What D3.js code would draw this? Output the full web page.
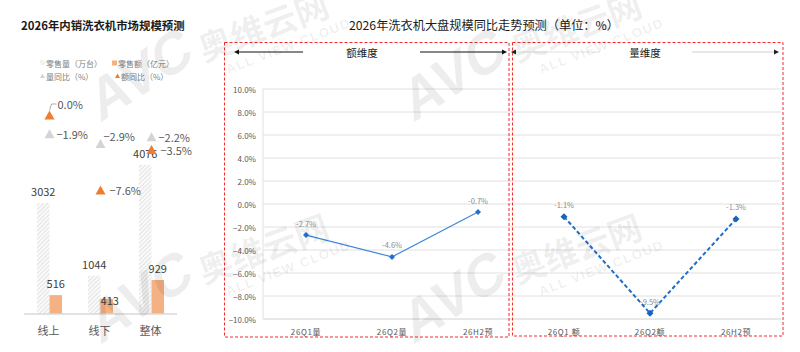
<!DOCTYPE html>
<html><head><meta charset="utf-8">
<script src="https://cdn.jsdelivr.net/npm/d3@7"></script>
<style>
html,body{margin:0;padding:0;background:#fff;}
svg{display:block;font-family:"Noto Sans CJK SC","Noto Sans",sans-serif;}
</style></head>
<body>
<script>
// ---------- data: left chart ----------
const channels = ["线上", "线下", "整体"];
const retailVolume = [3032, 1044, 4076];      // 零售量（万台）
const retailAmount = [516, 413, 929];         // 零售额（亿元）
const volumeYoY = [-1.9, -2.9, -2.2];         // 量同比（%）
const amountYoY = [0.0, -7.6, -3.5];          // 额同比（%）
const legendLabels = ["零售量（万台）", "零售额（亿元）", "量同比（%）", "额同比（%）"];

// ---------- data: right chart ----------
const periods = ["26Q1量", "26Q2量", "26H2预", "26Q1 额", "26Q2额", "26H2预 "];
const periodLabels = ["26Q1量", "26Q2量", "26H2预", "26Q1 额", "26Q2额", "26H2预"];
const amountDim = [-2.7, -4.6, -0.7];        // 额维度
const volumeDim = [-1.1, -9.5, -1.3];        // 量维度
const yTicks = [-10, -8, -6, -4, -2, 0, 2, 4, 6, 8, 10];

const W = 800, H = 352;
const svg = d3.select("body").append("svg").attr("width", W).attr("height", H);
svg.append("rect").attr("width", W).attr("height", H).attr("fill", "#fff");

const defs = svg.append("defs");
const pat = defs.append("pattern").attr("id", "hatch").attr("patternUnits", "userSpaceOnUse")
  .attr("width", 3).attr("height", 3).attr("patternTransform", "rotate(45)");
pat.append("rect").attr("width", 3).attr("height", 3).attr("fill", "#fafafa");
pat.append("line").attr("x1", 0).attr("y1", 0).attr("x2", 0).attr("y2", 3)
  .attr("stroke", "#cccccc").attr("stroke-width", 1);

const fmtPct = v => (v < 0 ? "−" : "") + Math.abs(v).toFixed(1) + "%";
const orange = "#ed7d31", lightOrange = "#f4b183", greyTri = "#d4d4d4";

// ================= LEFT CHART =================
svg.append("text").attr("x", 21).attr("y", 30).attr("font-size", 11.4).attr("font-weight", "bold")
  .attr("fill", "#1a1a1a").text("2026年内销洗衣机市场规模预测");

// legend
const lg = svg.append("g").attr("font-size", 8).attr("fill", "#808080");
lg.append("rect").attr("x", 40).attr("y", 60).attr("width", 5).attr("height", 5).attr("fill", "url(#hatch)");
lg.append("text").attr("x", 46).attr("y", 63).attr("dominant-baseline", "central").text(legendLabels[0]);
lg.append("rect").attr("x", 112).attr("y", 60.5).attr("width", 5).attr("height", 5).attr("fill", lightOrange);
lg.append("text").attr("x", 118).attr("y", 63).attr("dominant-baseline", "central").text(legendLabels[1]);
lg.append("path").attr("d", "M40,78L42.5,73.5L45,78Z").attr("fill", greyTri);
lg.append("text").attr("x", 46).attr("y", 76).attr("dominant-baseline", "central").text(legendLabels[2]);
lg.append("path").attr("d", "M115,78L117.5,73.5L120,78Z").attr("fill", orange);
lg.append("text").attr("x", 121).attr("y", 76).attr("dominant-baseline", "central").text(legendLabels[3]);

const xL = d3.scaleBand().domain(channels).range([24, 177]);
const yBar = d3.scaleLinear().domain([0, 5000]).range([314, 131]);
const yPct = d3.scaleLinear().domain([-10, 0]).range([213.7, 115]);
const bw = 12.5;

const gL = svg.append("g");
channels.forEach((c, i) => {
  const cx = xL(c) + xL.bandwidth() / 2;
  gL.append("rect").attr("x", cx - bw).attr("y", yBar(retailVolume[i]))
    .attr("width", bw).attr("height", yBar(0) - yBar(retailVolume[i])).attr("fill", "url(#hatch)");
  gL.append("rect").attr("x", cx).attr("y", yBar(retailAmount[i]))
    .attr("width", bw).attr("height", yBar(0) - yBar(retailAmount[i])).attr("fill", lightOrange);
});
gL.append("line").attr("x1", 24).attr("x2", 177).attr("y1", yBar(0)).attr("y2", yBar(0))
  .attr("stroke", "#d9d9d9").attr("stroke-width", 1.5);

channels.forEach(c => {
  gL.append("text").attr("x", xL(c) + xL.bandwidth() / 2 - 1).attr("y", 330)
    .attr("text-anchor", "middle").attr("dominant-baseline", "central")
    .attr("font-size", 11).attr("fill", "#595959").text(c);
});

const amtNudge = [0, 13, 0];
channels.forEach((c, i) => {
  const cx = xL(c) + xL.bandwidth() / 2;
  gL.append("text").attr("x", cx - bw / 2).attr("y", yBar(retailVolume[i]) - 7)
    .attr("text-anchor", "middle").attr("font-size", 11).attr("fill", "#404040").text(retailVolume[i]);
  gL.append("text").attr("x", cx + bw / 2 + (i === 1 ? 3 : 0)).attr("y", yBar(retailAmount[i]) - 7 + amtNudge[i])
    .attr("text-anchor", "middle").attr("font-size", 11).attr("fill", "#404040").text(retailAmount[i]);
});

const tri = (cx, cy) => `M${cx - 5},${cy + 4.5}L${cx},${cy - 4.5}L${cx + 5},${cy + 4.5}Z`;
const volLabelNudge = [0, -8, 0];
const amtLabelNudge = [-11, 0, 0];
channels.forEach((c, i) => {
  const cx = xL(c) + xL.bandwidth() / 2;
  gL.append("path").attr("d", tri(cx, yPct(volumeYoY[i]))).attr("fill", greyTri);
  gL.append("path").attr("d", tri(cx, yPct(amountYoY[i]))).attr("fill", orange);
});
channels.forEach((c, i) => {
  const cx = xL(c) + xL.bandwidth() / 2;
  gL.append("text").attr("x", cx + (i === 1 ? 3 : 7)).attr("y", yPct(volumeYoY[i]) + volLabelNudge[i])
    .attr("dominant-baseline", "central").attr("font-size", 11).attr("fill", "#595959").text(fmtPct(volumeYoY[i]));
  const ax = cx + (i === 0 ? 8 : 9);
  const ay = yPct(amountYoY[i]) + amtLabelNudge[i];
  gL.append("text").attr("x", ax).attr("y", ay)
    .attr("dominant-baseline", "central").attr("font-size", 11).attr("fill", "#595959").text(fmtPct(amountYoY[i]));
  if (amtLabelNudge[i] !== 0) {
    const ty = yPct(amountYoY[i]) - 4.5;
    gL.append("path").attr("d", `M${cx},${ty}L${cx + 2},${ay}L${ax - 1},${ay}`)
      .attr("fill", "none").attr("stroke", "#8c8c8c").attr("stroke-width", 0.7);
  }
});

// ================= RIGHT CHART =================
svg.append("text").attr("x", 484).attr("y", 30).attr("text-anchor", "middle").attr("font-size", 12.2)
  .attr("fill", "#1a1a1a").text("2026年洗衣机大盘规模同比走势预测（单位：%）");

const xR = d3.scaleBand().domain(periods).range([263, 779]);
const yR = d3.scaleLinear().domain([-10, 10]).range([319, 89]);

const gR = svg.append("g");
gR.selectAll(".grid").data(yTicks).join("line")
  .attr("x1", 263).attr("x2", 781).attr("y1", d => yR(d)).attr("y2", d => yR(d))
  .attr("stroke", d => d === -10 ? "#d0d0d0" : "#e0e0e0").attr("stroke-width", 1);
gR.append("line").attr("x1", 263).attr("x2", 263).attr("y1", yR(10)).attr("y2", yR(-10))
  .attr("stroke", "#e0e0e0");

gR.selectAll(".yt").data(yTicks).join("text")
  .attr("x", 256).attr("y", d => yR(d)).attr("text-anchor", "end").attr("dominant-baseline", "central")
  .attr("font-size", 8).attr("fill", "#595959").text(d => fmtPct(d));

periods.forEach((p, i) => {
  gR.append("text").attr("x", xR(p) + xR.bandwidth() / 2).attr("y", 331)
    .attr("text-anchor", "middle").attr("dominant-baseline", "central")
    .attr("font-size", 8).attr("fill", "#595959").attr("letter-spacing", 0.6).text(periodLabels[i]);
});

const red = "#f52a2a";
gR.append("rect").attr("x", 224.5).attr("y", 42.5).attr("width", 284.5).attr("height", 294.5)
  .attr("fill", "none").attr("stroke", red).attr("stroke-width", 1).attr("stroke-dasharray", "3,2");
gR.append("rect").attr("x", 512.5).attr("y", 42.5).attr("width", 270.5).attr("height", 293.5)
  .attr("fill", "none").attr("stroke", red).attr("stroke-width", 1).attr("stroke-dasharray", "3,2");

const arrowHead = (x, y, dir, col) =>
  gR.append("path").attr("d", `M${x},${y}L${x - dir * 5},${y - 2.5}L${x - dir * 5},${y + 2.5}Z`).attr("fill", col);
gR.append("line").attr("x1", 303).attr("x2", 238).attr("y1", 52).attr("y2", 52).attr("stroke", "#111").attr("stroke-width", 1);
arrowHead(234, 52, -1, "#111");
gR.append("line").attr("x1", 420).attr("x2", 503).attr("y1", 52).attr("y2", 52).attr("stroke", "#111").attr("stroke-width", 1);
arrowHead(507, 52, 1, "#111");
gR.append("text").attr("x", 362).attr("y", 52).attr("text-anchor", "middle").attr("dominant-baseline", "central")
  .attr("font-size", 10.5).attr("fill", "#1a1a1a").text("额维度");
gR.append("line").attr("x1", 514).attr("x2", 600).attr("y1", 52).attr("y2", 52).attr("stroke", "#e0e0e0").attr("stroke-width", 1);
arrowHead(511, 52, -1, "#222");
gR.append("line").attr("x1", 692).attr("x2", 775).attr("y1", 52).attr("y2", 52).attr("stroke", "#cfcfcf").attr("stroke-width", 1);
arrowHead(779, 52, 1, "#222");
gR.append("text").attr("x", 645).attr("y", 52).attr("text-anchor", "middle").attr("dominant-baseline", "central")
  .attr("font-size", 10.5).attr("fill", "#1a1a1a").text("量维度");

const pts1 = amountDim.map((v, i) => [xR(periods[i]) + xR.bandwidth() / 2, yR(v), v]);
const pts2 = volumeDim.map((v, i) => [xR(periods[i + 3]) + xR.bandwidth() / 2, yR(v), v]);
const line = d3.line().x(d => d[0]).y(d => d[1]);
gR.append("path").attr("d", line(pts1)).attr("fill", "none").attr("stroke", "#3f86dc").attr("stroke-width", 1.2);
gR.append("path").attr("d", line(pts2)).attr("fill", "none").attr("stroke", "#1f6cc9").attr("stroke-width", 2)
  .attr("stroke-dasharray", "4,2.5");
const diamond = (p, s) => `M${p[0]},${p[1] - s}L${p[0] + s},${p[1]}L${p[0]},${p[1] + s}L${p[0] - s},${p[1]}Z`;
pts1.forEach(p => gR.append("path").attr("d", diamond(p, 3)).attr("fill", "#2271d1"));
pts2.forEach(p => gR.append("path").attr("d", diamond(p, 3.5)).attr("fill", "#1565c0"));
[...pts1, ...pts2].forEach(p => {
  gR.append("text").attr("x", p[0]).attr("y", p[1] - 12).attr("text-anchor", "middle")
    .attr("dominant-baseline", "central").attr("font-size", 7.5).attr("fill", "#8c8c8c")
    .text((p[2] < 0 ? "-" : "") + Math.abs(p[2]).toFixed(1) + "%");
});

// ================= WATERMARKS =================
const wm = svg.append("g").attr("pointer-events", "none").attr("fill", "#000").attr("fill-opacity", 0.07)
  .attr("font-family", "'Liberation Sans','Noto Sans CJK SC',sans-serif").attr("font-weight", "bold");
[[0, 0], [0, 222], [313, 0], [313, 222]].forEach(([dx, dy]) => {
  const g = wm.append("g").attr("transform", `translate(${dx},${dy})`);
  g.append("text").attr("transform", "translate(100,123) rotate(-33) skewX(-12)")
    .attr("font-size", 56).text("AVC");
  g.append("text").attr("transform", "translate(204,62) rotate(-20)")
    .attr("font-family", "'Noto Sans CJK SC',sans-serif").attr("font-size", 34).text("奥维云网");
  g.append("text").attr("transform", "translate(228,74) rotate(-21)")
    .attr("font-size", 13).attr("letter-spacing", 1.5).text("ALL VIEW CLOUD");
});
</script>
</body></html>
